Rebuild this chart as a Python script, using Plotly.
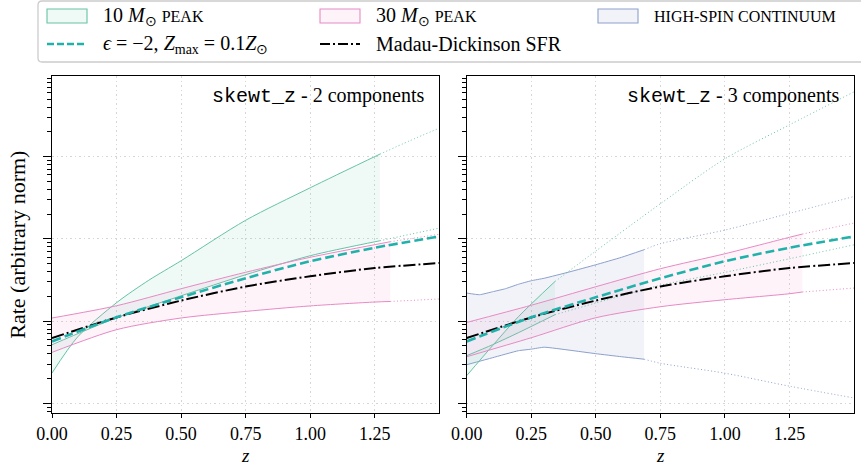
import plotly.graph_objects as go

# ---------------- data ----------------
# Left panel: skewt_z - 2 components
L_z10 = [0, 0.1, 0.25, 0.375, 0.5, 0.75, 1.0, 1.27]
L_10_a = [0.2339, 0.6457, 1.675, 3.141, 5.420, 16.83, 41.78, 107.2]
L_z10b = [0, 0.25, 0.5, 0.75, 1.0, 1.27]
L_10_b = [0.516, 1.099, 2.032, 3.664, 6.237, 9.484]
L_z10_ext_a = [1.27, 1.385, 1.5]
L_10_a_ext = [107.2, 155.6, 221.8]
L_z10_ext_b = [1.27, 1.5]
L_10_b_ext = [9.484, 13.52]

L_z30_hi = [0, 0.25, 0.5, 0.75, 1.0, 1.31]
L_30_hi = [1.091, 1.538, 2.477, 3.926, 5.970, 9.226]
L_z30_lo = [0, 0.25, 0.5, 0.75, 1.0, 1.25, 1.31]
L_30_lo = [0.4169, 0.7870, 1.091, 1.312, 1.531, 1.706, 1.734]
L_z30_ext = [1.31, 1.5]
L_30_hi_ext = [9.226, 11.38]
L_30_lo_ext = [1.734, 1.858]

# Right panel: skewt_z - 3 components
R_z10 = [0, 0.1, 0.2, 0.342]
R_10_a = [0.2173, 0.5023, 1.130, 3.034]
R_10_b = [0.3802, 0.5164, 0.7228, 1.197]
R_z10_ext = [0.342, 0.5, 0.75, 1.0, 1.25, 1.5]
R_10_a_ext = [3.034, 7.112, 26.73, 93.97, 243.2, 612.4]
R_10_b_ext = [1.197, 1.660, 2.729, 3.917, 5.728, 8.472]

R_z30 = [0, 0.25, 0.5, 0.75, 1.0, 1.25, 1.3]
R_30_hi = [0.9638, 1.560, 2.618, 4.335, 6.592, 10.45, 11.43]
R_30_lo = [0.3690, 0.6281, 1.099, 1.496, 1.820, 2.153, 2.259]
R_z30_ext = [1.3, 1.5]
R_30_hi_ext = [11.43, 15.56]
R_30_lo_ext = [2.259, 2.523]

R_zhs_hi = [0, 0.05, 0.1, 0.15, 0.2, 0.25, 0.3, 0.4, 0.5, 0.6, 0.687]
R_hs_hi = [2.193, 2.094, 2.275, 2.477, 2.805, 3.097, 3.319, 3.981, 4.842, 5.970, 7.379]
R_zhs_lo = [0, 0.1, 0.2, 0.25, 0.3, 0.4, 0.5, 0.6, 0.687]
R_hs_lo = [0.2951, 0.3589, 0.4365, 0.4560, 0.4819, 0.4426, 0.4018, 0.3690, 0.3443]
R_zhs_ext = [0.687, 0.75, 1.0, 1.25, 1.5]
R_hs_hi_ext = [7.379, 8.730, 12.79, 20.42, 32.73]
R_hs_lo_ext = [0.3443, 0.3076, 0.2328, 0.1618, 0.1164]

# Shared curves
z_model = [0, 0.25, 0.5, 0.75, 1.0, 1.25, 1.5]
eps_model = [0.5662, 1.114, 1.950, 3.319, 5.346, 7.798, 10.69]
madau_sfr = [0.6223, 1.109, 1.778, 2.630, 3.508, 4.416, 5.082]

x_tickvals = [0, 0.25, 0.5, 0.75, 1.0, 1.25]
x_ticktext = ["0.00", "0.25", "0.50", "0.75", "1.00", "1.25"]

legend_labels = [
    "10 <i>M</i><sub>⊙</sub> <span style='font-size:16px'>PEAK</span>",
    "30 <i>M</i><sub>⊙</sub> <span style='font-size:16px'>PEAK</span>",
    "<span style='font-size:16px'>HIGH-SPIN CONTINUUM</span>",
    "<i>ϵ</i> = −2, <i>Z</i><sub>max</sub> = 0.1<i>Z</i><sub>⊙</sub>",
    "Madau-Dickinson SFR",
]
panel_titles = ["2 components", "3 components"]

# ---------------- styling ----------------
GREEN = "#66c2a5"
PINK = "#e78ac3"
BLUE = "#8da0cb"
TEAL = "#20b2aa"
GREEN_F = "rgba(102,194,165,0.1)"
PINK_F = "rgba(231,138,195,0.1)"
BLUE_F = "rgba(141,160,203,0.12)"
SERIF = "Liberation Serif"
GRID = "#d6d6d6"

W, H = 861, 468
ML, MR, MT, MB = 52, 7, 76, 55
PW = W - ML - MR
PH = H - MT - MB


def px(x):
    return (x - ML) / PW


def py(y):
    return (H - MB - y) / PH


fig = go.Figure()


def line(xa, ya, x, y, color, width=1.0, dash=None, fill=None, fillcolor=None, smooth=0.8):
    fig.add_trace(go.Scatter(
        x=x, y=y, xaxis=xa, yaxis=ya, mode="lines",
        line=dict(color=color, width=width, dash=dash, shape="spline", smoothing=smooth),
        fill=fill, fillcolor=fillcolor, showlegend=False, hoverinfo="skip"))


DOT = "1px,2.4px"

# ---- left panel ----
line("x", "y", L_z10, L_10_a, GREEN)
line("x", "y", L_z10b, L_10_b, GREEN, fill="tonexty", fillcolor=GREEN_F)
line("x", "y", L_z30_lo, L_30_lo, PINK)
line("x", "y", L_z30_hi, L_30_hi, PINK, fill="tonexty", fillcolor=PINK_F)
line("x", "y", L_z10_ext_a, L_10_a_ext, GREEN, dash=DOT)
line("x", "y", L_z10_ext_b, L_10_b_ext, GREEN, dash=DOT)
line("x", "y", L_z30_ext, L_30_hi_ext, PINK, dash=DOT)
line("x", "y", L_z30_ext, L_30_lo_ext, PINK, dash=DOT)
line("x", "y", z_model, madau_sfr, "black", width=2, dash="12px,3px,2px,3px")
line("x", "y", z_model, eps_model, TEAL, width=2.6, dash="9px,4px")

# ---- right panel ----
line("x2", "y2", R_zhs_lo, R_hs_lo, BLUE, smooth=0.4)
line("x2", "y2", R_zhs_hi, R_hs_hi, BLUE, fill="tonexty", fillcolor=BLUE_F, smooth=0.4)
line("x2", "y2", R_z10, R_10_a, GREEN)
line("x2", "y2", R_z10, R_10_b, GREEN, fill="tonexty", fillcolor=GREEN_F)
line("x2", "y2", R_z30, R_30_lo, PINK)
line("x2", "y2", R_z30, R_30_hi, PINK, fill="tonexty", fillcolor=PINK_F)
line("x2", "y2", R_zhs_ext, R_hs_hi_ext, BLUE, dash=DOT)
line("x2", "y2", R_zhs_ext, R_hs_lo_ext, BLUE, dash=DOT)
line("x2", "y2", R_z10_ext, R_10_a_ext, GREEN, dash=DOT)
line("x2", "y2", R_z10_ext, R_10_b_ext, GREEN, dash=DOT)
line("x2", "y2", R_z30_ext, R_30_hi_ext, PINK, dash=DOT)
line("x2", "y2", R_z30_ext, R_30_lo_ext, PINK, dash=DOT)
line("x2", "y2", z_model, madau_sfr, "black", width=2, dash="12px,3px,2px,3px")
line("x2", "y2", z_model, eps_model, TEAL, width=2.6, dash="9px,4px")

# ---------------- axes ----------------
xcommon = dict(range=[0, 1.5], tickvals=x_tickvals, ticktext=x_ticktext,
               ticks="outside", ticklen=4, tickwidth=1.2, tickcolor="black",
               showline=True, linecolor="black", linewidth=1.2, mirror=True,
               showgrid=True, gridcolor=GRID, griddash="1.5px,3px", gridwidth=1.3,
               zeroline=False, tickfont=dict(family=SERIF, size=18, color="black"))
ycommon = dict(type="log", range=[-1.117, 2.98], dtick=1, tick0=0,
               showticklabels=False, ticks="outside", ticklen=8, tickwidth=1.2,
               tickcolor="black",
               minor=dict(ticks="outside", ticklen=4, tickwidth=1, tickcolor="black",
                          dtick="D1", showgrid=False),
               showline=True, linecolor="black", linewidth=1.2, mirror=True,
               showgrid=True, gridcolor=GRID, griddash="1.5px,3px", gridwidth=1.3,
               zeroline=False)

fig.update_layout(
    width=W, height=H,
    margin=dict(l=ML, r=MR, t=MT, b=MB),
    paper_bgcolor="white", plot_bgcolor="white",
    showlegend=False,
    font=dict(family=SERIF, color="black"),
    xaxis=dict(domain=[0, px(439.3)], anchor="y", **xcommon),
    xaxis2=dict(domain=[px(466.7), 1], anchor="y2", **xcommon),
    yaxis=dict(domain=[0, 1], anchor="x", **ycommon),
    yaxis2=dict(domain=[0, 1], anchor="x2", **ycommon),
)

# ---------------- legend (drawn as layout items) ----------------
shapes = []
x0, x1, y0, y1 = px(38), px(885), py(1), py(62)
rx, ry = 4 / PW, 4 / PH
path = (f"M {x0+rx},{y0} L {x1-rx},{y0} Q {x1},{y0} {x1},{y0-ry} L {x1},{y1+ry} "
        f"Q {x1},{y1} {x1-rx},{y1} L {x0+rx},{y1} Q {x0},{y1} {x0},{y1+ry} "
        f"L {x0},{y0-ry} Q {x0},{y0} {x0+rx},{y0} Z")
shapes.append(dict(type="path", xref="paper", yref="paper", path=path,
                   fillcolor="rgba(255,255,255,0.9)", line=dict(color="#cccccc", width=1.3)))

row1, row2 = 16, 44
cols = [47, 320, 598]
txt_off = 54
for cx, ec, fc in zip(cols, [GREEN, PINK, BLUE], [GREEN_F, PINK_F, BLUE_F]):
    shapes.append(dict(type="rect", xref="paper", yref="paper",
                       x0=px(cx), x1=px(cx + 40), y0=py(row1 + 7), y1=py(row1 - 7),
                       fillcolor=fc, line=dict(color=ec, width=1.1)))
shapes.append(dict(type="line", xref="paper", yref="paper",
                   x0=px(cols[0]), x1=px(cols[0] + 40), y0=py(row2), y1=py(row2),
                   line=dict(color=TEAL, width=2.6, dash="7px,3px")))
shapes.append(dict(type="line", xref="paper", yref="paper",
                   x0=px(cols[1]), x1=px(cols[1] + 40), y0=py(row2), y1=py(row2),
                   line=dict(color="black", width=2, dash="10px,3px,2px,3px")))

annotations = []
positions = [(cols[0], row1), (cols[1], row1), (cols[2], row1), (cols[0], row2), (cols[1], row2)]
for (cx, cy), lab in zip(positions, legend_labels):
    annotations.append(dict(xref="paper", yref="paper", x=px(cx + txt_off), y=py(cy),
                            xanchor="left", yanchor="middle", text=lab, showarrow=False,
                            font=dict(family=SERIF, size=20, color="black")))

# panel titles
for xr, t in zip([427, 842], panel_titles):
    annotations.append(dict(
        xref="paper", yref="paper", x=px(xr), y=py(96), xanchor="right", yanchor="middle",
        text="<span style=\"font-family:'Liberation Mono'\">skewt_z</span> - " + t,
        showarrow=False, font=dict(family=SERIF, size=20, color="black")))

# axis titles
annotations.append(dict(xref="paper", yref="paper", x=px(18), y=py(244.7),
                        xanchor="center", yanchor="middle", textangle=-90,
                        text="Rate (arbitrary norm)", showarrow=False,
                        font=dict(family=SERIF, size=22, color="black")))
for xc in [245.8, 660.5]:
    annotations.append(dict(xref="paper", yref="paper", x=px(xc), y=py(467.5),
                            xanchor="center", yanchor="bottom", text="<i>z</i>",
                            showarrow=False, font=dict(family=SERIF, size=19, color="black")))

fig.update_layout(shapes=shapes, annotations=annotations)

fig.write_html("out.html")
